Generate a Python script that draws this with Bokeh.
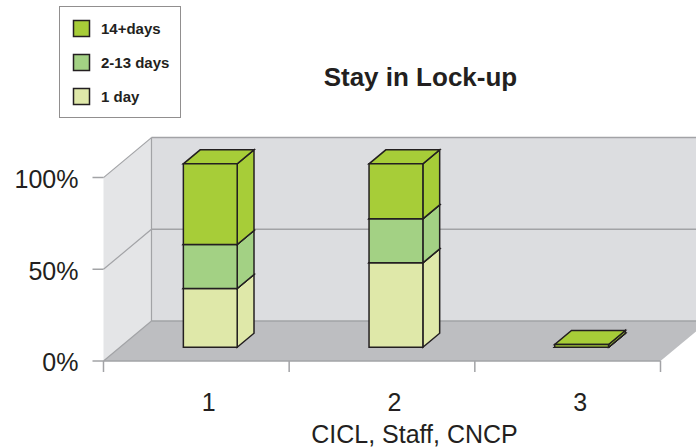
from bokeh.plotting import figure
from bokeh.models import Range1d, Legend, LegendItem
from bokeh.core.properties import value
from bokeh.embed import file_html
from bokeh.resources import INLINE

# ---------------- data ----------------
categories = ["1", "2", "3"]
series_names = ["1 day", "2-13 days", "14+days"]
one_day = [32, 46, 0]
two_to_13_days = [24, 24, 0]
fourteen_plus_days = [44, 30, 1.5]
y_ticks = [0, 50, 100]
y_tick_labels = ["0%", "50%", "100%"]
series_colors = ["#dfe8a9", "#a3d184", "#a7cd38"]
x_title = "CICL, Staff, CNCP"
chart_title = "Stay in Lock-up"

series_values = [one_day, two_to_13_days, fourteen_plus_days]

# ---------------- layout constants ----------------
DEPTH_X = 0.2585      # x shift of back wall (data units)
DEPTH_Y = 21.8        # y shift of back wall (percent units)
BAR_FRONT = 0.345     # depth fraction of bar front face
BAR_DEPTH = 0.35      # depth fraction of bar thickness
BAR_W = 0.29
BAR_SHIFT = -0.014    # small horizontal offset of bars within category
LABEL_SHIFT = -0.022  # small horizontal offset of category labels
X_START, X_END = -0.5547, 3.1939
Y_START, Y_END = -47.71, 196.56
TICK_X = 0.0592       # 11 px in x data units
TICK_Y = 6.0          # 11 px in y data units
FONT = "Liberation Sans"
TXT = "#231f20"
GRID = "#a2a3a6"

n = len(categories)
top = y_ticks[-1]

p = figure(width=696, height=448, output_backend="svg", toolbar_location=None,
           x_range=Range1d(X_START, X_END), y_range=Range1d(Y_START, Y_END),
           x_axis_type=None, y_axis_type=None,
           min_border_left=0, min_border_right=0, min_border_top=0,
           min_border_bottom=0)
p.grid.visible = False
p.outline_line_color = None
p.background_fill_color = "white"
p.border_fill_color = "white"

# ---------------- walls / floor ----------------
far = X_END + 1
p.patch([0, 0, DEPTH_X, DEPTH_X], [0, top, top + DEPTH_Y, DEPTH_Y],
        fill_color="#e4e5e7", line_color=None)
p.patch([DEPTH_X, DEPTH_X, far, far],
        [DEPTH_Y, top + DEPTH_Y, top + DEPTH_Y, DEPTH_Y],
        fill_color="#dcdde0", line_color=None)
p.patch([0, DEPTH_X, n + DEPTH_X, n], [0, DEPTH_Y, DEPTH_Y, 0],
        fill_color="#bdbec1", line_color=None)

# gridlines on back wall and left wall
p.segment(x0=[DEPTH_X] * len(y_ticks), y0=[t + DEPTH_Y for t in y_ticks],
          x1=[far] * len(y_ticks), y1=[t + DEPTH_Y for t in y_ticks],
          line_color=GRID, line_width=1.5)
p.segment(x0=[0] * len(y_ticks), y0=y_ticks,
          x1=[DEPTH_X] * len(y_ticks), y1=[t + DEPTH_Y for t in y_ticks],
          line_color=GRID, line_width=1.2)
p.segment(x0=[DEPTH_X], y0=[DEPTH_Y], x1=[DEPTH_X], y1=[top + DEPTH_Y],
          line_color=GRID, line_width=1.2)

# ---------------- axes (drawn through the plot scales) ----------------
# y ticks and labels
p.segment(x0=[-TICK_X] * len(y_ticks), y0=y_ticks, x1=[0] * len(y_ticks), y1=y_ticks,
          line_color=GRID, line_width=1.5)
p.text(x=[-0.1346] * len(y_ticks), y=[t - 0.8 for t in y_ticks], text=y_tick_labels,
       text_align="right", text_baseline="middle", text_font=value(FONT),
       text_font_size="25px", text_color=TXT)
# x axis line, ticks (category boundaries) and labels
bounds = list(range(n + 1))
p.segment(x0=[0], y0=[0], x1=[n], y1=[0], line_color=GRID, line_width=1.5)
p.segment(x0=bounds, y0=[0] * len(bounds), x1=bounds, y1=[-TICK_Y] * len(bounds),
          line_color=GRID, line_width=1.5)
fx = DEPTH_X * BAR_FRONT
fy = DEPTH_Y * BAR_FRONT
label_x = [i + 0.5 + fx + LABEL_SHIFT for i in range(n)]
p.text(x=label_x, y=[-22.6] * n, text=categories, text_align="center",
       text_baseline="middle", text_font=value(FONT), text_font_size="25px",
       text_color=TXT)
p.text(x=[1.675], y=[-40.0], text=[x_title], text_align="center",
       text_baseline="middle", text_font=value(FONT), text_font_size="25px",
       text_color=TXT)

# title
p.text(x=[1.707], y=[154.6], text=[chart_title], text_align="center",
       text_baseline="middle", text_font=value(FONT), text_font_size="26px",
       text_font_style="bold", text_color=TXT)

# ---------------- 3D stacked bars ----------------
ddx = DEPTH_X * BAR_DEPTH
ddy = DEPTH_Y * BAR_DEPTH

renderers = []
base = [0.0] * n
for k, vals in enumerate(series_values):
    xs, ys = [], []
    for i in range(n):
        x0 = i + 0.5 - BAR_W / 2 + fx + BAR_SHIFT
        x1 = x0 + BAR_W
        b = base[i] + fy
        t = b + vals[i]
        # side face
        xs.append([x1, x1 + ddx, x1 + ddx, x1]); ys.append([b, b + ddy, t + ddy, t])
        # top face
        xs.append([x0, x1, x1 + ddx, x0 + ddx]); ys.append([t, t, t + ddy, t + ddy])
        # front face
        xs.append([x0, x1, x1, x0]); ys.append([b, b, t, t])
        base[i] += vals[i]
    r = p.patches(xs, ys, fill_color=series_colors[k], line_color=TXT,
                  line_width=1.5, line_join="miter")
    renderers.append(r)

# ---------------- legend ----------------
items = [LegendItem(label=series_names[k], renderers=[renderers[k]])
         for k in reversed(range(len(series_names)))]
legend = Legend(items=items, location=(59, 330), border_line_color=TXT,
                border_line_width=1, background_fill_color="white",
                background_fill_alpha=1, padding=11, spacing=14, margin=0,
                glyph_width=20, glyph_height=20, label_height=20,
                label_standoff=10, label_text_font=FONT,
                label_text_font_size="15px", label_text_font_style="bold",
                label_text_color=TXT)
p.add_layout(legend)

open("out.html", "w").write(file_html(p, INLINE))
